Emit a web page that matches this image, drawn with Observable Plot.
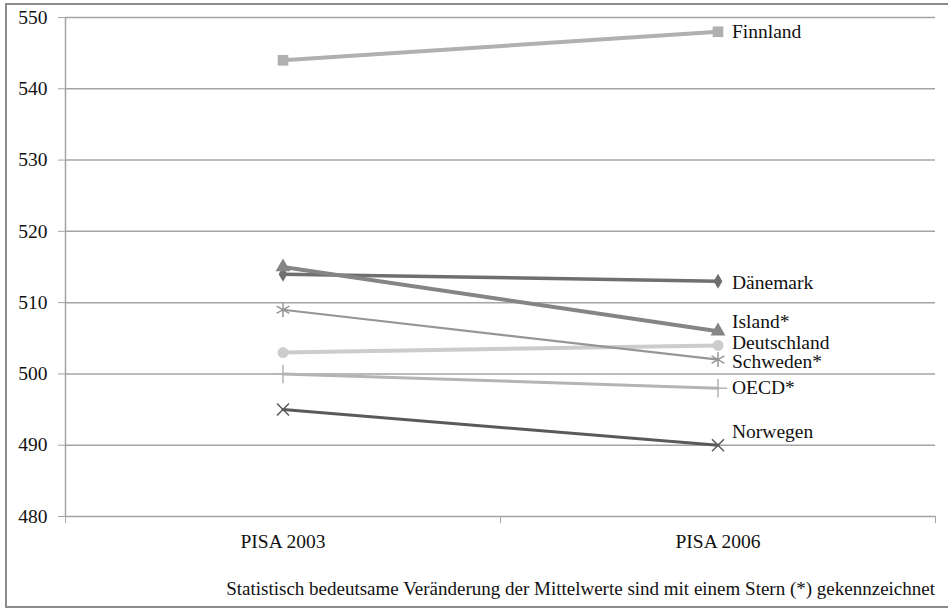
<!DOCTYPE html>
<html>
<head>
<meta charset="utf-8">
<script src="https://cdn.jsdelivr.net/npm/d3@7"></script>
<script src="https://cdn.jsdelivr.net/npm/@observablehq/plot@0.6"></script>
<style>
  html, body { margin: 0; padding: 0; background: #fff; }
  #wrap { position: relative; width: 948px; height: 612px; overflow: hidden; }
  #frame { position: absolute; left: 5px; top: 3px; width: 960px; height: 605px;
           border: 2px solid #8c8c8c; box-sizing: border-box; }
  #chart { position: absolute; left: 0; top: 0; }
  #caption { position: absolute; right: 13px; top: 578px; line-height: 22px;
             font: 19px "Liberation Serif", "Times New Roman", serif;
             color: #111; white-space: nowrap; }
</style>
</head>
<body>
<div id="wrap">
  <div id="frame"></div>
  <div id="chart"></div>
  <div id="caption">Statistisch bedeutsame Veränderung der Mittelwerte sind mit einem Stern (*) gekennzeichnet</div>
</div>
<script>
// Mean scores, PISA 2003 vs. PISA 2006
const periods = ["PISA 2003", "PISA 2006"];
const countries = ["Finnland", "Dänemark", "Island*", "Deutschland", "Schweden*", "OECD*", "Norwegen"];
const pisa2003 = [544, 514, 515, 503, 509, 500, 495];
const pisa2006 = [548, 513, 506, 504, 502, 498, 490];
const yTicks = [480, 490, 500, 510, 520, 530, 540, 550];

// Line and marker styling per series
const look = {
  "Finnland":    {color: "#b0b0b0", width: 4,   symbol: "square",   r: 6,   filled: true,  labelDy: 0},
  "Dänemark":    {color: "#6f6f6f", width: 3.5, symbol: "diamond",  r: 4.6, filled: true,  labelDy: 1},
  "Island*":     {color: "#858585", width: 4,   symbol: "triangle", r: 5.5, filled: true,  labelDy: -9},
  "Deutschland": {color: "#cccccc", width: 4,   symbol: "circle",   r: 5.5, filled: true,  labelDy: -3},
  "Schweden*":   {color: "#969696", width: 2.2, symbol: "asterisk", r: 7,   filled: false, labelDy: 2},
  "OECD*":       {color: "#b4b4b4", width: 3,   symbol: "plus",     r: 6,   filled: false, labelDy: 0},
  "Norwegen":    {color: "#5a5a5a", width: 3,   symbol: "times",    r: 5.5, filled: false, labelDy: -13}
};

// Long-format table: position 0.5 / 1.5 puts each period at the centre of its half
const rows = [];
countries.forEach((c, i) => {
  rows.push({country: c, period: periods[0], pos: 0.5, value: pisa2003[i]});
  rows.push({country: c, period: periods[1], pos: 1.5, value: pisa2006[i]});
});

const serif = "'Liberation Serif', 'Times New Roman', serif";
const fs = 19.5;
const marks = [
  Plot.gridY(yTicks, {stroke: "#a4a4a4", strokeOpacity: 1, strokeWidth: 1.5}),
  Plot.ruleX([0], {y1: 480, y2: 550, stroke: "#a4a4a4", strokeWidth: 1.5}),
  Plot.axisY({ticks: yTicks, tickSize: 7, tickPadding: 11, stroke: "#a4a4a4", fontSize: fs, fill: "#111", label: null}),
  Plot.axisX({ticks: [0, 1, 2], tickSize: 7, tickFormat: () => "", stroke: "#a4a4a4", label: null}),
  Plot.axisX({ticks: [0.5, 1.5], tickSize: 0, tickPadding: 18, tickFormat: d => periods[d - 0.5], fontSize: fs, fill: "#111", label: null})
];

for (const c of countries) {
  const s = look[c];
  const data = rows.filter(d => d.country === c);
  marks.push(Plot.line(data, {x: "pos", y: "value", stroke: s.color, strokeWidth: s.width}));
  marks.push(Plot.dot(data, {
    x: "pos", y: "value", symbol: () => s.symbol, r: s.r,
    fill: s.filled ? s.color : "none",
    stroke: s.filled ? "none" : s.color,
    strokeWidth: s.filled ? 0 : 1.5
  }));
  marks.push(Plot.text(data.filter(d => d.pos === 1.5), {
    x: "pos", y: "value", text: "country", textAnchor: "start", dx: 14, dy: s.labelDy,
    fontSize: fs, fill: "#111"
  }));
}

const chart = Plot.plot({
  width: 948,
  height: 612,
  marginTop: 17,
  marginBottom: 96,
  marginLeft: 65,
  marginRight: 13,
  style: {fontFamily: serif, background: "transparent"},
  x: {domain: [0, 2], axis: null},
  y: {domain: [480, 550], axis: null},
  symbol: {type: "identity"},
  marks
});
document.getElementById("chart").appendChild(chart);
</script>
</body>
</html>
